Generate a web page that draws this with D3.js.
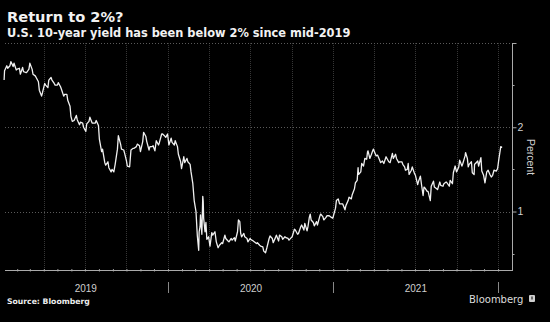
<!DOCTYPE html>
<html>
<head>
<meta charset="utf-8">
<script src="https://cdn.jsdelivr.net/npm/d3@7"></script>
<style>
  html, body { margin: 0; padding: 0; background: #000; }
  svg { display: block; }
</style>
</head>
<body>
<svg id="chart" width="550" height="322"></svg>
<script>
// ---- Data: U.S. 10-year Treasury yield (percent) ----
const yield2019 = [
  ["2019-01-03",2.56],["2019-01-04",2.67],["2019-01-09",2.73],["2019-01-11",2.70],["2019-01-16",2.73],
  ["2019-01-18",2.78],["2019-01-23",2.72],["2019-01-25",2.76],["2019-01-30",2.68],["2019-02-01",2.69],
  ["2019-02-06",2.70],["2019-02-08",2.63],["2019-02-13",2.71],["2019-02-15",2.66],["2019-02-20",2.65],
  ["2019-02-22",2.65],["2019-02-27",2.69],["2019-03-01",2.76],["2019-03-06",2.69],["2019-03-08",2.63],
  ["2019-03-13",2.61],["2019-03-15",2.59],["2019-03-20",2.54],["2019-03-22",2.44],["2019-03-27",2.37],
  ["2019-03-29",2.41],["2019-04-03",2.52],["2019-04-05",2.50],["2019-04-10",2.47],["2019-04-12",2.56],
  ["2019-04-17",2.59],["2019-04-19",2.56],["2019-04-24",2.52],["2019-04-26",2.50],["2019-05-01",2.50],
  ["2019-05-03",2.53],["2019-05-08",2.48],["2019-05-10",2.45],["2019-05-15",2.37],["2019-05-17",2.39],
  ["2019-05-22",2.39],["2019-05-24",2.32],["2019-05-29",2.25],["2019-05-31",2.13],["2019-06-03",2.07],
  ["2019-06-07",2.08],["2019-06-12",2.14],["2019-06-14",2.09],["2019-06-19",2.03],["2019-06-21",2.06],
  ["2019-06-26",2.05],["2019-06-28",2.00],["2019-07-03",1.95],["2019-07-05",2.04],["2019-07-10",2.07],
  ["2019-07-12",2.12],["2019-07-17",2.05],["2019-07-19",2.05],["2019-07-24",2.05],["2019-07-26",2.08],
  ["2019-07-31",2.02],["2019-08-02",1.86],["2019-08-07",1.71],["2019-08-09",1.74],["2019-08-14",1.58],
  ["2019-08-16",1.55],["2019-08-21",1.59],["2019-08-23",1.52],["2019-08-28",1.47],["2019-08-30",1.50],
  ["2019-09-03",1.47],["2019-09-06",1.56],["2019-09-11",1.74],["2019-09-13",1.90],["2019-09-18",1.80],
  ["2019-09-20",1.74],["2019-09-25",1.73],["2019-09-27",1.69],["2019-10-01",1.60],["2019-10-03",1.54],
  ["2019-10-08",1.53],["2019-10-11",1.73],["2019-10-16",1.75],["2019-10-18",1.75],["2019-10-23",1.77],
  ["2019-10-25",1.80],["2019-10-30",1.78],["2019-11-01",1.71],["2019-11-06",1.83],["2019-11-08",1.94],
  ["2019-11-13",1.89],["2019-11-15",1.83],["2019-11-20",1.73],["2019-11-22",1.77],["2019-11-27",1.77],
  ["2019-11-29",1.78],["2019-12-03",1.72],["2019-12-06",1.84],["2019-12-11",1.79],["2019-12-13",1.82],
  ["2019-12-18",1.92],["2019-12-20",1.92],["2019-12-24",1.90],["2019-12-27",1.88],["2019-12-31",1.92]
];
const yield2020 = [
  ["2020-01-03",1.79],["2020-01-08",1.87],["2020-01-10",1.82],["2020-01-15",1.79],["2020-01-17",1.84],
  ["2020-01-22",1.77],["2020-01-24",1.68],["2020-01-29",1.59],["2020-01-31",1.51],["2020-02-05",1.65],
  ["2020-02-07",1.58],["2020-02-12",1.63],["2020-02-14",1.59],["2020-02-19",1.56],["2020-02-21",1.47],
  ["2020-02-25",1.33],["2020-02-28",1.13],["2020-03-03",1.00],["2020-03-06",0.71],["2020-03-09",0.54],
  ["2020-03-10",0.76],["2020-03-12",0.82],["2020-03-13",0.96],["2020-03-16",0.73],["2020-03-18",1.18],
  ["2020-03-19",1.12],["2020-03-20",0.92],["2020-03-23",0.76],["2020-03-25",0.87],["2020-03-27",0.67],
  ["2020-03-31",0.70],["2020-04-03",0.59],["2020-04-07",0.75],["2020-04-09",0.72],["2020-04-14",0.76],
  ["2020-04-17",0.64],["2020-04-21",0.57],["2020-04-24",0.60],["2020-04-29",0.63],["2020-05-01",0.62],
  ["2020-05-06",0.72],["2020-05-08",0.68],["2020-05-13",0.65],["2020-05-15",0.64],["2020-05-20",0.68],
  ["2020-05-22",0.66],["2020-05-27",0.69],["2020-05-29",0.65],["2020-06-03",0.76],["2020-06-05",0.90],
  ["2020-06-08",0.88],["2020-06-10",0.74],["2020-06-12",0.70],["2020-06-17",0.74],["2020-06-19",0.70],
  ["2020-06-24",0.68],["2020-06-26",0.64],["2020-07-01",0.68],["2020-07-02",0.67],["2020-07-08",0.65],
  ["2020-07-10",0.64],["2020-07-15",0.62],["2020-07-17",0.63],["2020-07-22",0.60],["2020-07-24",0.59],
  ["2020-07-29",0.58],["2020-07-31",0.53],["2020-08-04",0.51],["2020-08-07",0.57],["2020-08-12",0.68],
  ["2020-08-14",0.71],["2020-08-19",0.68],["2020-08-21",0.63],["2020-08-26",0.69],["2020-08-28",0.72],
  ["2020-09-02",0.65],["2020-09-04",0.72],["2020-09-09",0.70],["2020-09-11",0.67],["2020-09-16",0.70],
  ["2020-09-18",0.69],["2020-09-23",0.68],["2020-09-25",0.66],["2020-09-30",0.69],["2020-10-02",0.70],
  ["2020-10-07",0.79],["2020-10-09",0.78],["2020-10-14",0.73],["2020-10-16",0.74],["2020-10-21",0.82],
  ["2020-10-23",0.84],["2020-10-28",0.78],["2020-10-30",0.86],["2020-11-04",0.77],["2020-11-06",0.82],
  ["2020-11-09",0.93],["2020-11-11",0.97],["2020-11-13",0.90],["2020-11-18",0.87],["2020-11-20",0.83],
  ["2020-11-25",0.88],["2020-11-27",0.84],["2020-12-02",0.94],["2020-12-04",0.97],["2020-12-09",0.94],
  ["2020-12-11",0.90],["2020-12-16",0.93],["2020-12-18",0.95],["2020-12-23",0.95],["2020-12-28",0.93],
  ["2020-12-31",0.92]
];
const yield2021 = [
  ["2021-01-06",1.04],["2021-01-08",1.13],["2021-01-12",1.15],["2021-01-15",1.09],["2021-01-20",1.09],
  ["2021-01-22",1.09],["2021-01-27",1.02],["2021-01-29",1.07],["2021-02-03",1.13],["2021-02-05",1.17],
  ["2021-02-10",1.15],["2021-02-12",1.20],["2021-02-17",1.27],["2021-02-19",1.34],["2021-02-23",1.37],
  ["2021-02-25",1.52],["2021-02-26",1.44],["2021-03-03",1.47],["2021-03-05",1.57],["2021-03-09",1.54],
  ["2021-03-12",1.63],["2021-03-16",1.62],["2021-03-18",1.71],["2021-03-19",1.72],["2021-03-23",1.63],
  ["2021-03-26",1.67],["2021-03-30",1.73],["2021-03-31",1.74],["2021-04-06",1.66],["2021-04-09",1.67],
  ["2021-04-13",1.62],["2021-04-16",1.58],["2021-04-20",1.60],["2021-04-23",1.57],["2021-04-28",1.65],
  ["2021-04-30",1.63],["2021-05-04",1.59],["2021-05-07",1.58],["2021-05-12",1.69],["2021-05-14",1.63],
  ["2021-05-19",1.68],["2021-05-21",1.63],["2021-05-26",1.58],["2021-05-28",1.59],["2021-06-02",1.59],
  ["2021-06-04",1.56],["2021-06-08",1.53],["2021-06-10",1.49],["2021-06-14",1.50],["2021-06-16",1.57],
  ["2021-06-18",1.44],["2021-06-23",1.49],["2021-06-25",1.53],["2021-06-30",1.45],["2021-07-02",1.43],
  ["2021-07-07",1.32],["2021-07-09",1.36],["2021-07-13",1.42],["2021-07-16",1.30],["2021-07-19",1.19],
  ["2021-07-21",1.29],["2021-07-23",1.28],["2021-07-28",1.24],["2021-07-30",1.24],["2021-08-04",1.13],
  ["2021-08-06",1.30],["2021-08-11",1.36],["2021-08-13",1.29],["2021-08-18",1.27],["2021-08-20",1.26],
  ["2021-08-25",1.35],["2021-08-27",1.31],["2021-09-01",1.30],["2021-09-03",1.33],["2021-09-08",1.35],
  ["2021-09-10",1.34],["2021-09-15",1.30],["2021-09-17",1.37],["2021-09-22",1.33],["2021-09-24",1.46],
  ["2021-09-28",1.54],["2021-10-01",1.47],["2021-10-06",1.53],["2021-10-08",1.61],["2021-10-13",1.54],
  ["2021-10-15",1.57],["2021-10-20",1.66],["2021-10-21",1.70],["2021-10-25",1.63],["2021-10-27",1.53],
  ["2021-10-29",1.56],["2021-11-03",1.59],["2021-11-05",1.46],["2021-11-09",1.44],["2021-11-10",1.56],
  ["2021-11-12",1.57],["2021-11-17",1.60],["2021-11-19",1.54],["2021-11-24",1.64],["2021-11-26",1.48],
  ["2021-11-30",1.43],["2021-12-03",1.34],["2021-12-07",1.47],["2021-12-10",1.49],["2021-12-14",1.44],
  ["2021-12-17",1.41],["2021-12-20",1.43],["2021-12-23",1.49],["2021-12-28",1.48],["2021-12-31",1.51]
];
const yield2022 = [
  ["2022-01-03",1.63],["2022-01-05",1.70],["2022-01-07",1.77],["2022-01-10",1.76]
];
const yearLabels = ["2019", "2020", "2021"];
const yTickLabels = [1, 2];
const yMinorTicks = [0.5, 1.5, 2.5, 3];
const titleText = "Return to 2%?";
const subtitleText = "U.S. 10-year yield has been below 2% since mid-2019";
const sourceText = "Source: Bloomberg";
const unitText = "Percent";

// ---- Build ----
const parse = d3.timeParse("%Y-%m-%d");
const series = [...yield2019, ...yield2020, ...yield2021, ...yield2022]
  .map(([d, v]) => ({ date: parse(d), value: v }));

const svg = d3.select("#chart");
svg.append("rect").attr("width", 550).attr("height", 322).attr("fill", "#000");

const plotL = 5, plotR = 512.5, plotT = 43, plotB = 270.5;

const x = d3.scaleTime()
  .domain([new Date(2019, 0, 5), new Date(2022, 1, 2)])
  .range([plotL, plotR]);
const y = d3.scaleLinear().domain([0.3, 3]).range([plotB, plotT]);

// Title & subtitle
svg.append("text").attr("x", 7).attr("y", 22)
  .attr("font-family", "DejaVu Sans, Verdana, sans-serif").attr("font-weight", "bold")
  .attr("font-size", 14.6).attr("fill", "#f2f2f2").text(titleText);
svg.append("text").attr("x", 7).attr("y", 37)
  .attr("font-family", "DejaVu Sans, Verdana, sans-serif").attr("font-weight", "bold")
  .attr("font-size", 11.4).attr("fill", "#f2f2f2").text(subtitleText);

// Vertical quarterly gridlines
const quarters = d3.timeMonth.every(3).range(new Date(2019, 3, 1), new Date(2022, 0, 2));
svg.append("g").selectAll("line").data(quarters).join("line")
  .attr("x1", d => Math.round(x(d)) + 0.5).attr("x2", d => Math.round(x(d)) + 0.5)
  .attr("y1", plotT).attr("y2", plotB)
  .attr("stroke", "#363636").attr("stroke-width", 1).attr("stroke-dasharray", "1,1");

// Horizontal dotted gridlines
svg.append("g").selectAll("line").data([1, 2, 3]).join("line")
  .attr("x1", plotL).attr("x2", plotR)
  .attr("y1", d => Math.round(y(d)) + 0.5).attr("y2", d => Math.round(y(d)) + 0.5)
  .attr("stroke", "#5a5a5a").attr("stroke-width", 1).attr("stroke-dasharray", "1,2");

// X axis baseline with monthly ticks
const months = d3.timeMonth.range(new Date(2019, 1, 1), new Date(2022, 0, 2));
const xAxis = d3.axisBottom(x).tickValues(months).tickSize(2).tickFormat("");
const gx = svg.append("g").attr("transform", `translate(0,${plotB})`).call(xAxis);
gx.select(".domain").remove();
gx.selectAll(".tick line").attr("stroke", "#999").attr("y1", -1.5).attr("y2", 1);
svg.append("line").attr("x1", plotL).attr("x2", plotR + 0.5)
  .attr("y1", plotB).attr("y2", plotB).attr("stroke", "#aaa").attr("stroke-width", 1);

// Right Y axis
svg.append("line").attr("x1", plotR).attr("x2", plotR)
  .attr("y1", plotT).attr("y2", plotB).attr("stroke", "#aaa").attr("stroke-width", 1);
const yAxis = d3.axisRight(y).tickValues(yTickLabels).tickSize(4).tickPadding(1).tickFormat(d3.format("d"));
const gy = svg.append("g").attr("transform", `translate(${plotR},0)`).call(yAxis);
gy.select(".domain").remove();
gy.selectAll(".tick line").attr("stroke", "#aaa");
gy.selectAll(".tick text").attr("fill", "#d0d0d0")
  .attr("font-family", "Liberation Sans, Arial, sans-serif").attr("font-size", 10.5);
svg.append("g").selectAll("line").data(yMinorTicks).join("line")
  .attr("x1", plotR).attr("x2", d => plotR + (d === 3 ? 4 : 2))
  .attr("y1", d => Math.round(y(d)) + 0.5).attr("y2", d => Math.round(y(d)) + 0.5)
  .attr("stroke", "#aaa");
svg.append("text")
  .attr("transform", `translate(527,157) rotate(90)`)
  .attr("text-anchor", "middle")
  .attr("font-family", "Liberation Sans, Arial, sans-serif").attr("font-size", 10.5)
  .attr("fill", "#d0d0d0").text(unitText);

// Year separators and labels
const yearStarts = [new Date(2020, 0, 1), new Date(2021, 0, 1), new Date(2022, 0, 1)];
svg.append("g").selectAll("line").data(yearStarts).join("line")
  .attr("x1", d => Math.round(x(d)) + 0.5).attr("x2", d => Math.round(x(d)) + 0.5)
  .attr("y1", 282).attr("y2", 293).attr("stroke", "#888");
svg.append("g").selectAll("text").data(yearLabels).join("text")
  .attr("x", d => x(new Date(+d, 6, 3)))
  .attr("y", 292)
  .attr("text-anchor", "middle")
  .attr("font-family", "Liberation Sans, Arial, sans-serif").attr("font-size", 10)
  .attr("fill", "#cfcfcf").text(d => d);

// Line
const line = d3.line().x(d => x(d.date)).y(d => y(d.value));
svg.append("path").datum(series)
  .attr("d", line).attr("fill", "none")
  .attr("stroke", "#f0f0f0").attr("stroke-width", 1.3)
  .attr("stroke-linejoin", "round");

// Footer
svg.append("text").attr("x", 7).attr("y", 304)
  .attr("font-family", "DejaVu Sans, Verdana, sans-serif").attr("font-weight", "bold")
  .attr("font-size", 7.7).attr("fill", "#eeeeee").text(sourceText);
svg.append("text").attr("x", 469).attr("y", 303)
  .attr("font-family", "DejaVu Sans, Verdana, sans-serif")
  .attr("font-size", 10).attr("fill", "#dcdcdc").text("Bloomberg");
svg.append("rect").attr("x", 529).attr("y", 295).attr("width", 6).attr("height", 7)
  .attr("rx", 1).attr("fill", "#cfcfcf");
svg.append("rect").attr("x", 531.5).attr("y", 296.5).attr("width", 1).attr("height", 3)
  .attr("fill", "#000");
</script>
</body>
</html>
